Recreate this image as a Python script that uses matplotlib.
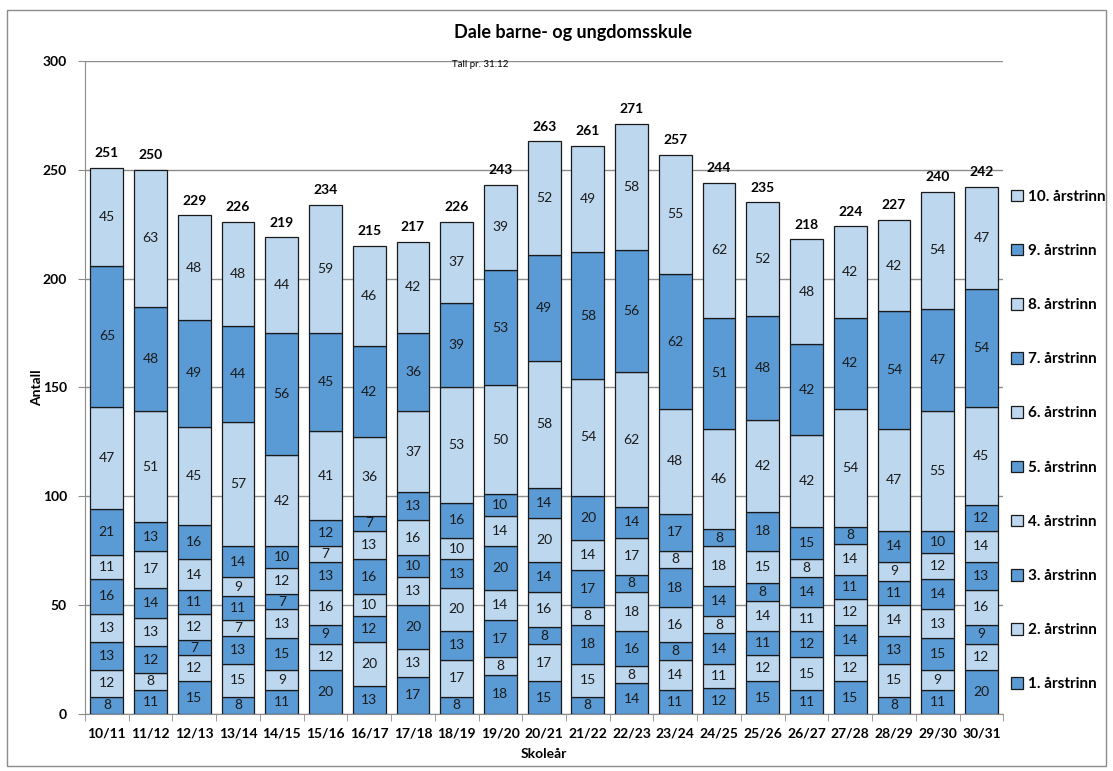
import numpy as np
import matplotlib.pyplot as plt
from matplotlib.patches import Rectangle

plt.rcParams['font.family'] = ['Lato', 'DejaVu Sans']

# Skoleår
aar = ['10/11', '11/12', '12/13', '13/14', '14/15', '15/16', '16/17', '17/18',
       '18/19', '19/20', '20/21', '21/22', '22/23', '23/24', '24/25', '25/26',
       '26/27', '27/28', '28/29', '29/30', '30/31']

# Elevtal per årstrinn (1. til 10.)
trinn1 = [8, 11, 15, 8, 11, 20, 13, 17, 8, 18, 15, 8, 14, 11, 12, 15, 11, 15, 8, 11, 20]
trinn2 = [12, 8, 12, 15, 9, 12, 20, 13, 17, 8, 17, 15, 8, 14, 11, 12, 15, 12, 15, 9, 12]
trinn3 = [13, 12, 7, 13, 15, 9, 12, 20, 13, 17, 8, 18, 16, 8, 14, 11, 12, 14, 13, 15, 9]
trinn4 = [13, 13, 12, 7, 13, 16, 10, 13, 20, 14, 16, 8, 18, 16, 8, 14, 11, 12, 14, 13, 16]
trinn5 = [16, 14, 11, 11, 7, 13, 16, 10, 13, 20, 14, 17, 8, 18, 14, 8, 14, 11, 11, 14, 13]
trinn6 = [11, 17, 14, 9, 12, 7, 13, 16, 10, 14, 20, 14, 17, 8, 18, 15, 8, 14, 9, 12, 14]
trinn7 = [21, 13, 16, 14, 10, 12, 7, 13, 16, 10, 14, 20, 14, 17, 8, 18, 15, 8, 14, 10, 12]
trinn8 = [47, 51, 45, 57, 42, 41, 36, 37, 53, 50, 58, 54, 62, 48, 46, 42, 42, 54, 47, 55, 45]
trinn9 = [65, 48, 49, 44, 56, 45, 42, 36, 39, 53, 49, 58, 56, 62, 51, 48, 42, 42, 54, 47, 54]
trinn10 = [45, 63, 48, 48, 44, 59, 46, 42, 37, 39, 52, 49, 58, 55, 62, 52, 48, 42, 42, 54, 47]

serier = [trinn1, trinn2, trinn3, trinn4, trinn5, trinn6, trinn7, trinn8, trinn9, trinn10]
navn = ['%d. årstrinn' % (i + 1) for i in range(10)]

moerk = '#5B9BD5'
lys = '#BDD7EE'

fig = plt.figure(figsize=(11.13, 7.71), dpi=100)
ax = fig.add_axes([0.0764, 0.074, 0.825, 0.847])

# Ramme rundt heile diagrammet
fig.patches.append(Rectangle((0.0065, 0.007), 0.987, 0.98, transform=fig.transFigure,
                             fill=False, edgecolor='#8C8C8C', linewidth=1.0))

x = np.arange(len(aar))
botn = np.zeros(len(aar))
for i, s in enumerate(serier):
  farge = moerk if i % 2 == 0 else lys
  b = ax.bar(x, s, 0.75, bottom=botn, color=farge, edgecolor='#1a1a1a',
             linewidth=0.9, label=navn[i], zorder=3)
  ax.bar_label(b, labels=[str(v) for v in s], label_type='center',
               fontsize=10, color='#1a1a1a')
  botn = botn + np.array(s)

# Sum over kvar stolpe
for xi, tot in zip(x, botn):
  ax.text(xi, tot + 4, '%d' % tot, ha='center', va='bottom', fontsize=10,
          fontweight='bold')

ax.set_xlim(-0.5, len(aar) - 0.5)
ax.set_ylim(0, 300)
ax.set_yticks(np.arange(0, 301, 50))
ax.set_xticks(x)
ax.set_xticklabels(aar)
ax.set_xticks(np.arange(-0.5, len(aar), 1), minor=True)
ax.tick_params(axis='x', which='major', length=0, labelsize=10, pad=10)
ax.tick_params(axis='x', which='minor', length=5, color='#8C8C8C')
ax.tick_params(axis='y', length=5, color='#8C8C8C', labelsize=10, pad=8)
for lab in ax.get_xticklabels() + ax.get_yticklabels():
  lab.set_fontweight('bold')

ax.grid(axis='y', color='#8C8C8C', linewidth=1.0, zorder=0)
for side in ['top', 'right']:
  ax.spines[side].set_visible(False)
for side in ['left', 'bottom']:
  ax.spines[side].set_color('#8C8C8C')

ax.set_xlabel('Skoleår', fontsize=10, fontweight='bold', labelpad=6)
ax.set_ylabel('Antall', fontsize=10, fontweight='bold', labelpad=0)

fig.text(0.515, 0.958, 'Dale barne- og ungdomsskule', ha='center', va='center',
         fontsize=13, fontweight='bold')
ax.text(0.43, 0.995, 'Tall pr. 31.12', transform=ax.transAxes, ha='center',
        va='center', fontsize=7)

h, l = ax.get_legend_handles_labels()
fig.legend(h[::-1], l[::-1], loc='upper left', bbox_to_anchor=(0.903, 0.762),
           frameon=False, prop={'weight': 'bold', 'size': 11},
           labelspacing=2.62, handlelength=0.8, handleheight=0.8,
           handletextpad=0.3, borderaxespad=0)

fig.savefig('out.png', dpi=100)
